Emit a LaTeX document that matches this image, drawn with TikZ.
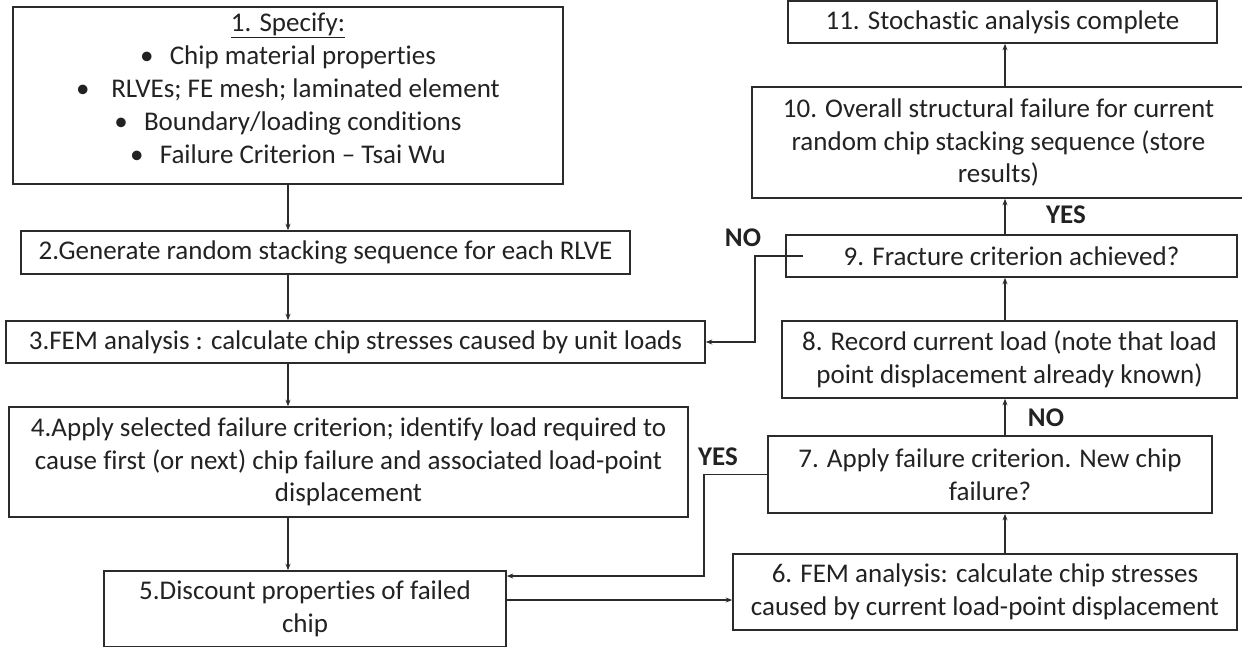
\documentclass[tikz,border=0pt]{standalone}
\usepackage{fontspec}
\setmainfont{Carlito}[Ligatures=NoCommon]
\usetikzlibrary{arrows.meta,calc}
\definecolor{linec}{HTML}{2B2B2B}
\definecolor{textc}{HTML}{222222}
\begin{document}
\begin{tikzpicture}[x=1pt,y=-1pt,
  box/.style={draw=linec, line width=1.6pt, align=center, inner sep=0pt,
    font=\fontsize{27}{32.5}\selectfont, text=textc},
  txt/.style={align=center, inner sep=0pt, font=\fontsize{27}{33}\selectfont, text=textc},
  arr/.style={draw=linec, line width=1.4pt, -{Stealth[length=6.5pt,width=5pt]}},
  lab/.style={font=\fontsize{27}{30}\selectfont\bfseries, text=textc, inner sep=0pt}]
\useasboundingbox (0,0) rectangle (1242,646);
% left column
\node[box, minimum width=550, minimum height=177] (b1) at (288,95.5) {};
\node[txt] (b1t) at (288,88.5) {\underline{1. Specify:}\\
  •\hspace{0.6em}Chip material properties\\
  •\hspace{0.8em}RLVEs; FE mesh; laminated element\\
  •\hspace{0.6em}Boundary/loading conditions\\
  •\hspace{0.6em}Failure Criterion – Tsai Wu};
\node[box, minimum width=609, minimum height=43] (b2) at (325.5,252.5)
  {2.Generate random stacking sequence for each RLVE};
\node[box, minimum width=699, minimum height=42] (b3) at (355.5,342)
  {3.FEM analysis : calculate chip stresses caused by unit loads};
\node[box, minimum width=679, minimum height=110] (b4) at (348.5,462)
  {4.Apply selected failure criterion; identify load required to\\
   cause first (or next) chip failure and associated load-point\\
   displacement};
\node[box, minimum width=402, minimum height=76] (b5) at (305,609)
  {5.Discount properties of failed\\ chip};
% right column
\node[box, minimum width=504, minimum height=76] (b6) at (985,592)
  {6. FEM analysis: calculate chip stresses\\ caused by current load-point displacement};
\node[box, minimum width=444, minimum height=77] (b7) at (990,474.5)
  {7. Apply failure criterion. New chip\\ failure?};
\node[box, minimum width=455, minimum height=77] (b8) at (1009.5,359.5)
  {8. Record current load (note that load\\ point displacement already known)};
\node[box, minimum width=451, minimum height=42] (b9) at (1011.5,256)
  {9. Fracture criterion achieved?};
\node[box, minimum width=493, minimum height=111] (b10) at (998.5,142.5)
  {10. Overall structural failure for current\\ random chip stacking sequence (store\\ results)};
\node[box, minimum width=429, minimum height=42] (b11) at (1002.5,22)
  {11. Stochastic analysis complete};
% helper coordinates
\coordinate (colA) at (288,0);
\coordinate (colB) at (1005,0);
\coordinate (nox) at (755,0);
\coordinate (yesx) at (704,576);
\coordinate (r56) at (0,600);
% main flow
\draw[arr] (b1.south -| colA) -- (b2.north -| colA);
\draw[arr] (b2.south -| colA) -- (b3.north -| colA);
\draw[arr] (b3.south -| colA) -- (b4.north -| colA);
\draw[arr] (b4.south -| colA) -- (b5.north -| colA);
\draw[arr] (b5.east |- r56) -- (b6.west |- r56);
\draw[arr] (b6.north -| colB) -- (b7.south -| colB);
\draw[arr] (b7.north -| colB) -- (b8.south -| colB);
\draw[arr] (b8.north -| colB) -- (b9.south -| colB);
\draw[arr] (b9.north -| colB) -- (b10.south -| colB);
\draw[arr] (b10.north -| colB) -- (b11.south -| colB);
% loops
\draw[arr] ([xshift=18pt]b9.west) -| (nox |- b3.east) -- (b3.east);
\draw[arr] (b7.west) -| (yesx) -- (b5.east |- yesx);
% labels
\node[lab] (lno1) at (743,238) {NO};
\node[lab] (lyes1) at (1066,215) {YES};
\node[lab] (lno2) at (1046,418) {NO};
\node[lab] (lyes2) at (718,457) {YES};
\end{tikzpicture}
\end{document}
